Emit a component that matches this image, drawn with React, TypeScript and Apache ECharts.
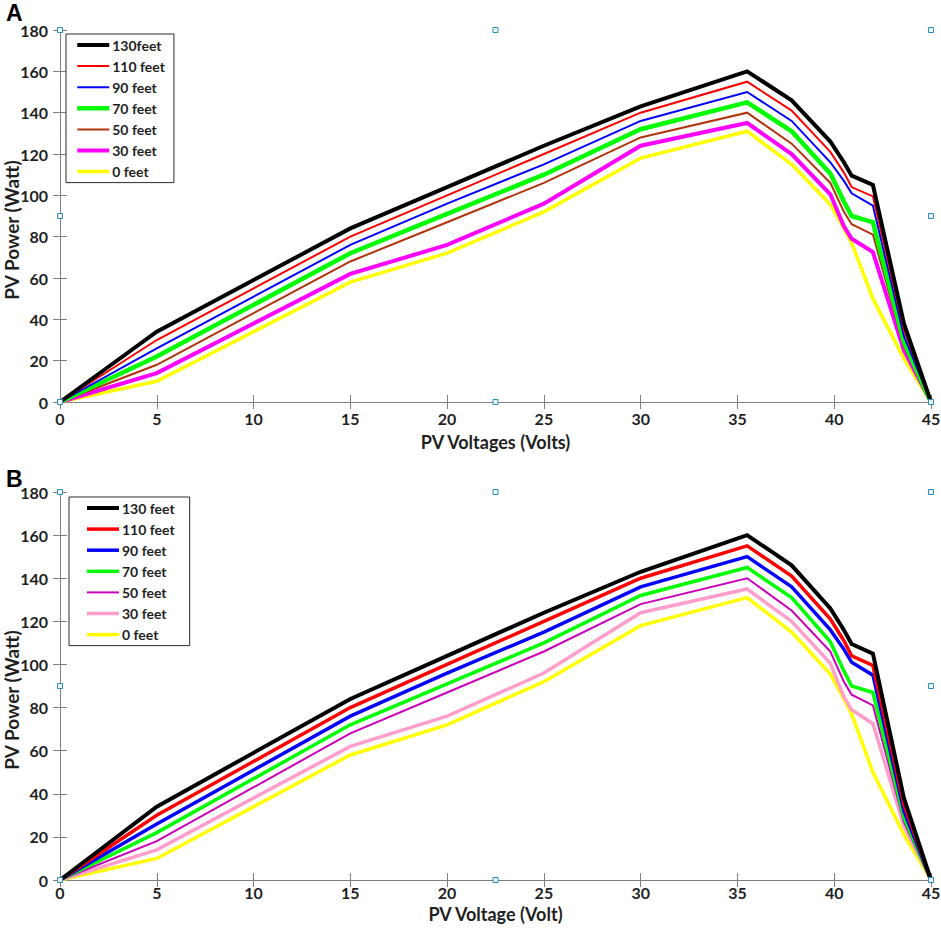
import React, { useEffect, useRef } from 'react';
import * as echarts from 'echarts';

// ---- data ----
const voltages = [0, 5, 15, 20, 25, 30, 35.5, 37.8, 39.8, 40.5, 40.9, 42, 43.6, 45];

const power130 = [0, 34, 84, 104, 124, 143, 160, 146, 126, 116, 109.5, 105, 38, 0];
const power110 = [0, 30, 80, 100, 120, 140, 155, 141, 121, 111, 104, 99.5, 35, 0];
const power90 = [0, 26, 76, 96, 115, 136, 150, 136, 116, 107, 101, 95, 32, 0];
const power70 = [0, 22, 72, 91, 110, 132, 145, 131, 110.5, 97, 90, 87, 29, 0];
const power50 = [0, 18, 68, 87, 106, 128, 140, 125, 106, 92, 86, 81, 27, 0];
const power30 = [0, 14, 62, 76, 96, 124, 135, 120, 100.5, 85, 79, 72.5, 25, 0];
const power0 = [0, 10, 58, 72, 92, 118, 131, 115, 95.5, 84, 77, 50, 21, 0];

const powers = [power130, power110, power90, power70, power50, power30, power0];

const namesA = ['130feet', '110 feet', '90 feet', '70 feet', '50 feet', '30 feet', '0 feet'];
const namesB = ['130 feet', '110 feet', '90 feet', '70 feet', '50 feet', '30 feet', '0 feet'];

const xMin = 0, xMax = 45, xStep = 5;
const yMin = 0, yMax = 180, yStep = 20;

// ---- styles ----
const FONT = 'Lato';
const TXT = '#1f1f1f';
const AXIS_GRAY = '#7f7f7f';

type Panel = {
  letter: string;
  names: string[];
  colors: string[];
  widths: number[];
  xName: string;
  titleTop: number;
  gridTop: number;
  gridHeight: number;
  labelMarginX: number;
  nameGapX: number;
  yNameShift: number;
  legend: { left: number; top: number; padding: number[] };
};

const panelA: Panel = {
  letter: 'A',
  names: namesA,
  colors: ['#000000', '#FF0000', '#0000FF', '#00FF00', '#B0340E', '#FF00FF', '#FFFF00'],
  widths: [4, 2, 2, 4.5, 2, 4, 3.5],
  xName: 'PV Voltages (Volts)',
  titleTop: 1,
  gridTop: 30,
  gridHeight: 372,
  labelMarginX: 8,
  nameGapX: 31,
  yNameShift: 28,
  legend: { left: 66, top: 34, padding: [4, 9, 4, 9] },
};

const panelB: Panel = {
  letter: 'B',
  names: namesB,
  colors: ['#000000', '#FF0000', '#0000FF', '#00FF00', '#CC00BB', '#FF9ECB', '#FFFF00'],
  widths: [4, 3.5, 3.5, 3.5, 2, 3.5, 3.5],
  xName: 'PV Voltage (Volt)',
  titleTop: 7,
  gridTop: 32,
  gridHeight: 388,
  labelMarginX: 4,
  nameGapX: 25,
  yNameShift: 28,
  legend: { left: 69, top: 37, padding: [4, 15, 4, 16] },
};

const GRID_LEFT = 60;
const GRID_WIDTH = 871;

function buildOption(p: Panel) {
  const commonAxis = {
    axisLine: { show: true, lineStyle: { color: AXIS_GRAY, width: 1 } },
    axisTick: { show: true, inside: true, length: 7, lineStyle: { color: AXIS_GRAY, width: 1 } },
    splitLine: { show: false },
  };
  const labelStyle = { fontFamily: FONT, fontWeight: 'bold' as const, fontSize: 16, color: TXT };

  const x0 = GRID_LEFT, x1 = GRID_LEFT + GRID_WIDTH, xm = (x0 + x1) / 2;
  const y0 = p.gridTop, y1 = p.gridTop + p.gridHeight, ym = (y0 + y1) / 2;
  const handlePts = [
    [x0, y0], [xm, y0], [x1, y0],
    [x0, ym], [x1, ym],
    [x0, y1], [xm, y1], [x1, y1],
  ];
  const handles = handlePts.map(([cx, cy]) => ({
    type: 'rect',
    z: 100,
    shape: { x: cx - 2.5, y: cy - 2.5, width: 5, height: 5 },
    style: { fill: '#EAF6FB', stroke: '#2B8FB8', lineWidth: 1 },
  }));

  return {
    animation: false,
    backgroundColor: '#ffffff',
    title: {
      text: p.letter,
      left: 6,
      top: p.titleTop,
      padding: 0,
      textStyle: { fontFamily: 'Liberation Sans', fontWeight: 'bold', fontSize: 23, color: '#000' },
    },
    grid: {
      left: GRID_LEFT, top: p.gridTop, width: GRID_WIDTH, height: p.gridHeight,
      containLabel: false, outerBoundsMode: 'none',
    },
    legend: {
      orient: 'vertical',
      left: p.legend.left,
      top: p.legend.top,
      padding: p.legend.padding,
      itemWidth: 32,
      itemHeight: 14,
      itemGap: 7.1,
      selectedMode: false,
      backgroundColor: '#ffffff',
      borderColor: '#2a2a2a',
      borderWidth: 1,
      borderRadius: 0,
      lineStyle: { width: 'inherit' },
      itemStyle: { opacity: 0, borderWidth: 0 },
      textStyle: { fontFamily: FONT, fontWeight: 'bold', fontSize: 14, color: TXT, padding: [0, 0, 0, -2] },
      data: p.names,
      z: 50,
    },
    xAxis: [
      {
        type: 'value', position: 'bottom', min: xMin, max: xMax, interval: xStep,
        ...commonAxis,
        axisLabel: { ...labelStyle, margin: p.labelMarginX },
        name: p.xName, nameLocation: 'middle', nameGap: p.nameGapX, nameMoveOverlap: false,
        nameTextStyle: { fontFamily: FONT, fontWeight: 'bold', fontSize: 18, color: TXT },
      },
      {
        type: 'value', position: 'top', min: xMin, max: xMax, interval: xStep,
        ...commonAxis,
        axisLabel: { show: false },
      },
    ],
    yAxis: [
      {
        type: 'value', position: 'left', min: yMin, max: yMax, interval: yStep,
        ...commonAxis,
        axisLabel: { ...labelStyle, margin: 12 },
        name: 'PV Power (Watt)', nameLocation: 'middle', nameGap: 39, nameMoveOverlap: false,
        nameTextStyle: {
          fontFamily: FONT, fontWeight: 'bold', fontSize: 19, color: TXT,
          padding: [0, p.yNameShift, 0, 0],
        },
      },
      {
        type: 'value', position: 'right', min: yMin, max: yMax, interval: yStep,
        ...commonAxis,
        axisLabel: { show: false },
      },
    ],
    series: powers.map((vals, i) => ({
      type: 'line',
      name: p.names[i],
      xAxisIndex: 0,
      yAxisIndex: 0,
      data: voltages.map((v, j) => [v, vals[j]]),
      symbol: 'none',
      clip: false,
      z: 2 + (powers.length - i),
      lineStyle: { color: p.colors[i], width: p.widths[i], join: 'miter' },
      itemStyle: { color: p.colors[i] },
    })),
    graphic: handles,
  };
}

function ChartPanel({ panel, top, height }: { panel: Panel; top: number; height: number }) {
  const ref = useRef<HTMLDivElement>(null);
  useEffect(() => {
    if (!ref.current) return;
    const chart = echarts.init(ref.current, undefined, { renderer: 'svg' });
    chart.setOption(buildOption(panel) as any);
    return () => chart.dispose();
  }, [panel]);
  return (
    <div
      ref={ref}
      style={{ position: 'absolute', left: 0, top, width: 941, height }}
    />
  );
}

export default function App() {
  return (
    <div style={{ position: 'absolute', left: 0, top: 0, width: 941, height: 931, background: '#fff' }}>
      <ChartPanel panel={panelA} top={0} height={460} />
      <ChartPanel panel={panelB} top={460} height={471} />
    </div>
  );
}
